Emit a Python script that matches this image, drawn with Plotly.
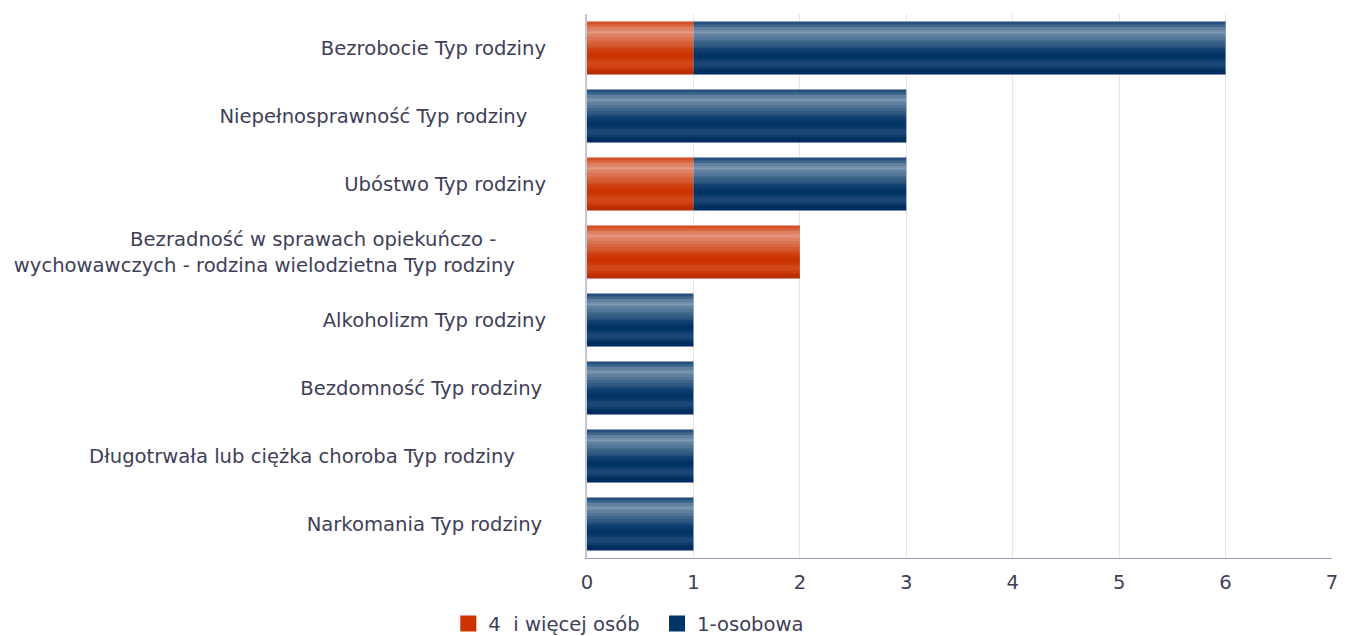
import plotly.graph_objects as go

categories = [
    "Bezrobocie Typ rodziny",
    "Niepełnosprawność Typ rodziny\u00a0\u00a0\u00a0",
    "Ubóstwo Typ rodziny",
    "Bezradność w sprawach opiekuńczo -" + "\u00a0" * 8
    + "<br>wychowawczych - rodzina wielodzietna Typ rodziny" + "\u00a0" * 5,
    "Alkoholizm Typ rodziny",
    "Bezdomność Typ rodziny\u2009",
    "Długotrwała lub ciężka choroba Typ rodziny" + "\u00a0" * 5,
    "Narkomania Typ rodziny\u2009",
]
series_names = ["4\u00a0\u00a0i więcej osób", "1-osobowa"]
values_4plus = [1, 0, 1, 2, 0, 0, 0, 0]
values_1os = [5, 3, 2, 0, 1, 1, 1, 1]
x_ticks = [0, 1, 2, 3, 4, 5, 6, 7]

ORANGE = "#cc3300"
BLUE = "#003366"
TEXT = "#3e4059"
BAR_W = 0.78
FONT = "DejaVu Sans"
FS = 19.6

totals = [a + b for a, b in zip(values_4plus, values_1os)]

fig = go.Figure()
fig.add_trace(go.Bar(
    y=categories, x=values_4plus, base=[0] * len(values_4plus), orientation="h",
    name=series_names[0], marker=dict(color=ORANGE, line=dict(width=0)),
    width=BAR_W, showlegend=False,
))
fig.add_trace(go.Bar(
    y=categories, x=values_1os, base=values_4plus, orientation="h",
    name=series_names[1], marker=dict(color=BLUE, line=dict(width=0)),
    width=BAR_W, showlegend=False,
))

# glossy shading bands (top -> bottom)
W, K = "255,255,255", "0,0,0"
gloss = [
    (W, .15), (W, .25), (W, .38), (W, .45), (W, .44), (W, .38), (W, .32),
    (W, .26), (W, .20), (W, .14), (W, .08), (W, .03), (W, 0), (W, 0),
    (W, .04), (W, .10), (W, .10), (W, .05), (K, .06), (K, .10),
]
n = len(gloss)
bw = BAR_W / n
for k, (rgb, a) in enumerate(gloss):
    if a <= 0:
        continue
    fig.add_trace(go.Bar(
        y=categories, x=totals, base=[0] * len(totals), orientation="h",
        width=bw * 1.02, offset=-BAR_W / 2 + k * bw,
        marker=dict(color=f"rgba({rgb},{a})", line=dict(width=0)),
        showlegend=False, hoverinfo="skip",
    ))

# legend entries
legend_labels = [series_names[0] + "\u00a0\u00a0", series_names[1]]
for name, col in zip(legend_labels, [ORANGE, BLUE]):
    fig.add_trace(go.Scatter(
        x=[None], y=[None], mode="markers", name=name,
        marker=dict(symbol="square", size=20, color=col),
        showlegend=True,
    ))

fig.update_layout(
    width=1338, height=628,
    barmode="overlay",
    paper_bgcolor="white", plot_bgcolor="white",
    margin=dict(l=579, r=14, t=6, b=78, autoexpand=False),
    font=dict(family=FONT, size=FS, color=TEXT),
    showlegend=True,
    legend=dict(
        orientation="h", xref="container", x=0.464, xanchor="center",
        yref="paper", y=-0.121, yanchor="middle",
        font=dict(size=FS, color=TEXT), traceorder="normal",
        itemsizing="trace", itemwidth=30,
    ),
    xaxis=dict(
        range=[0, 7], tickvals=x_ticks, showgrid=True, gridcolor="#e6e6ec",
        gridwidth=1, zeroline=False, showline=True, linecolor="#9b9bbb",
        linewidth=1, ticks="", tickfont=dict(size=FS, color=TEXT),
        ticklabelstandoff=6, ticklabeloverflow="allow",
    ),
    yaxis=dict(
        autorange=False, range=[len(categories) - 0.5, -0.5],
        showline=True, linecolor="#c0c4dc", linewidth=2,
        ticks="", tickfont=dict(size=FS, color=TEXT), ticklabelstandoff=35,
        showgrid=False,
    ),
)

fig.write_html("out.html")
